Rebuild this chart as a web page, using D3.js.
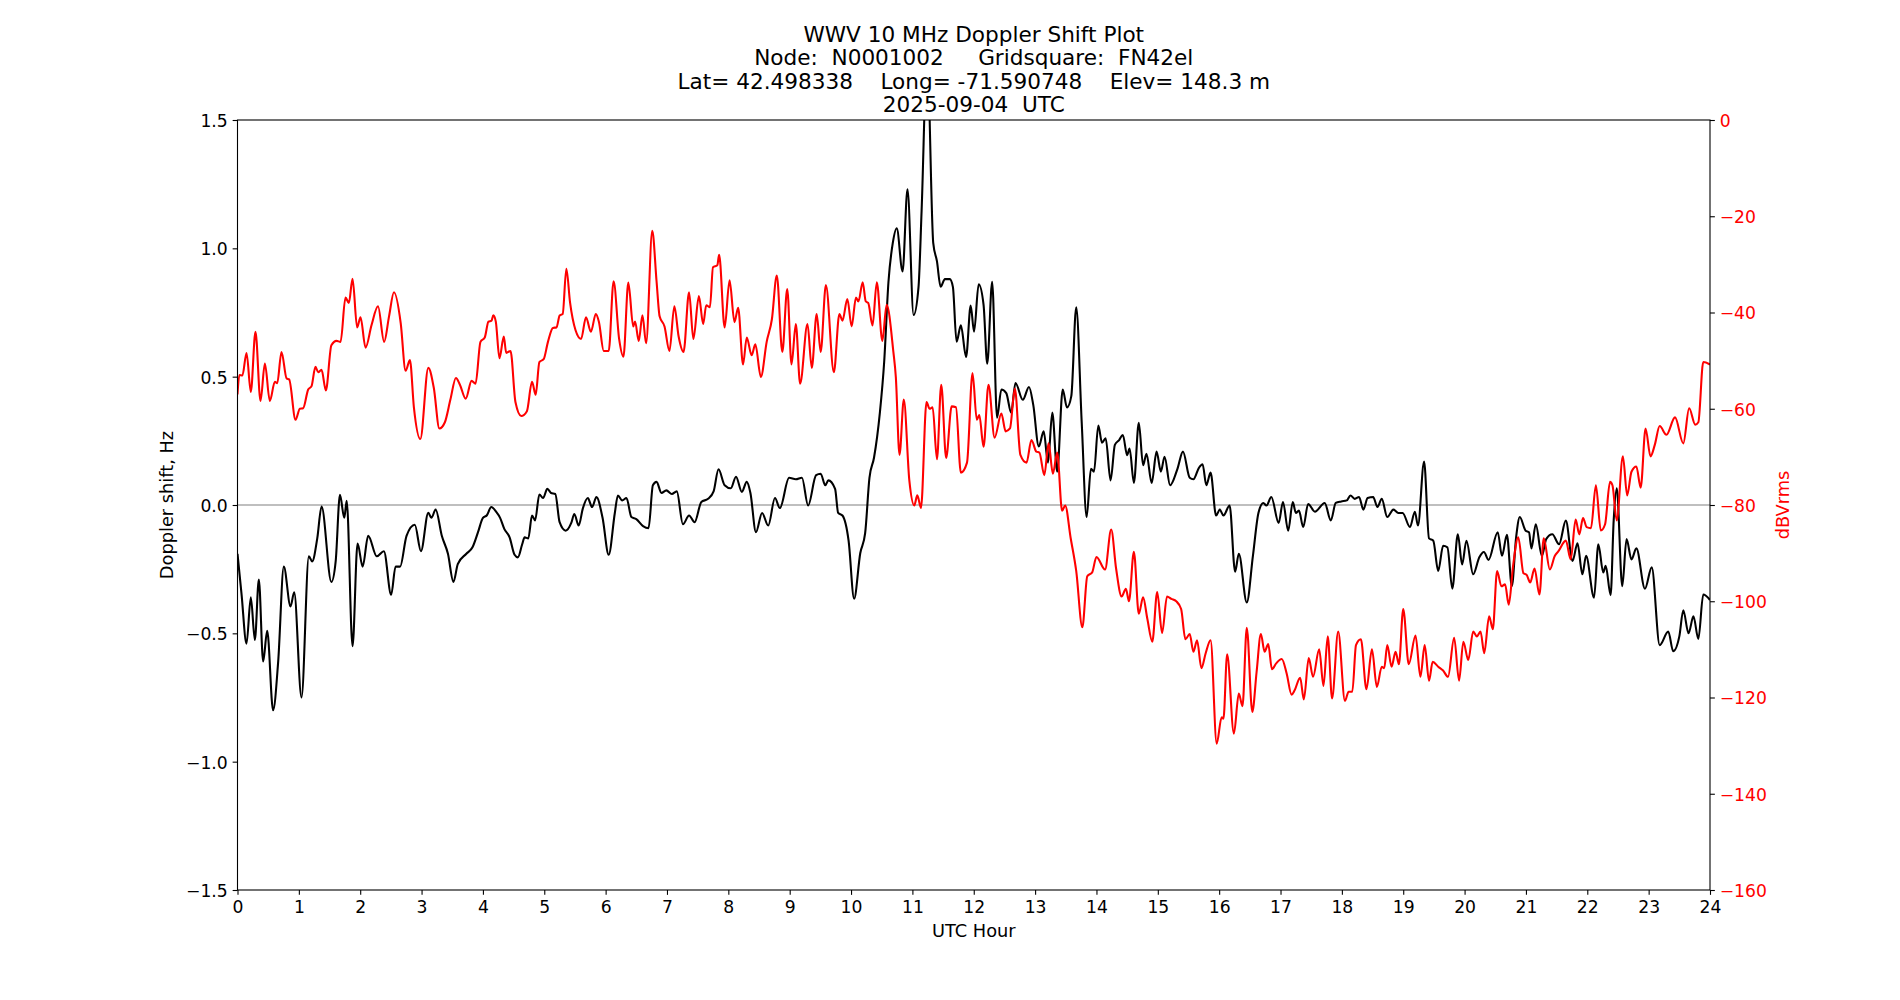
<!DOCTYPE html>
<html lang="en">
<head>
<meta charset="utf-8">
<title>WWV 10 MHz Doppler Shift Plot</title>
<script src="https://d3js.org/d3.v7.min.js"></script>
<style>
  body { margin: 0; background: #fff; }
  svg text { font-family: "DejaVu Sans", sans-serif; }
  .title text { font-size: 21.6px; white-space: pre; }
  .axis text { font-size: 17.2px; }
  .axis line { stroke: #000; stroke-width: 1.1px; }
  .axis path { display: none; }
  .lbl { font-size: 17.8px; }
</style>
</head>
<body>
<svg width="1900" height="1000"></svg>
<script>

// ---- data ----
var titleLines = [
  "WWV 10 MHz Doppler Shift Plot",
  "Node:  N0001002     Gridsquare:  FN42el",
  "Lat= 42.498338    Long= -71.590748    Elev= 148.3 m",
  "2025-09-04  UTC"
];
var xTicks = d3.range(0, 25);
var hzTicks = [-1.5, -1.0, -0.5, 0.0, 0.5, 1.0, 1.5];
var dbTicks = [0, -20, -40, -60, -80, -100, -120, -140, -160];

// Doppler shift (black), hours / Hz
var dopplerHours = [0.0,0.065,0.147,0.217,0.283,0.348,0.418,0.484,0.58,0.663,0.755,0.864,0.924,1.043,1.163,1.217,1.30,1.37,1.53,1.60,1.67,1.74,1.78,1.875,1.957,2.04,2.13,2.27,2.386,2.505,2.576,2.65,2.755,2.89,2.99,3.11,3.16,3.23,3.33,3.43,3.52,3.59,3.73,3.83,3.92,
  4.0,4.065,4.136,4.217,4.28,4.35,4.435,4.516,4.57,4.64,4.68,4.74,4.80,4.85,4.92,4.98,5.05,5.11,5.18,5.25,5.35,5.44,5.49,5.56,5.63,5.71,5.78,5.85,5.95,6.05,6.15,6.2,6.27,6.34,6.42,6.5,6.61,6.70,6.77,6.83,6.91,6.99,7.08,7.16,7.26,7.36,7.45,7.56,7.67,7.76,7.84,7.94,
  8.04,8.125,8.22,8.30,8.36,8.45,8.55,8.65,8.76,8.84,8.99,9.10,9.20,9.30,9.43,9.505,9.58,9.63,9.74,9.79,9.86,9.96,10.05,10.15,10.23,10.30,10.375,10.47,10.54,10.61,10.68,10.745,10.84,10.92,11.02,11.10,11.15,11.24,11.34,11.40,11.46,11.53,11.61,11.66,11.72,11.79,11.875,11.95,12.005,12.08,12.16,
  12.22,12.30,12.38,12.45,12.53,12.61,12.68,12.80,12.90,12.97,13.06,13.14,13.21,13.28,13.36,13.45,13.52,13.59,13.67,13.76,13.84,13.91,13.96,14.03,14.09,14.15,14.23,14.30,14.37,14.43,14.50,14.54,14.61,14.69,14.76,14.815,14.90,14.98,15.05,15.11,15.20,15.32,15.41,15.52,15.58,15.67,15.73,15.79,15.86,15.95,16.01,16.07,16.17,
  16.26,16.32,16.45,16.55,16.64,16.72,16.77,16.85,16.97,17.04,17.125,17.20,17.25,17.30,17.37,17.45,17.56,17.72,17.82,17.90,17.99,18.08,18.14,18.21,18.28,18.35,18.42,18.51,18.58,18.65,18.74,18.84,18.92,18.99,19.11,19.19,19.24,19.34,19.42,19.49,19.57,19.65,19.72,19.80,19.89,19.96,20.03,20.14,20.24,20.315,20.39,
  20.54,20.61,20.69,20.77,20.84,20.90,20.995,21.05,21.09,21.16,21.26,21.33,21.43,21.54,21.65,21.76,21.84,21.92,21.98,22.11,22.18,22.26,22.30,22.38,22.43,22.48,22.57,22.64,22.72,22.80,22.94,23.05,23.18,23.32,23.40,23.50,23.565,23.65,23.73,23.81,23.89,24.0];
var dopplerHz = [-0.19,-0.345,-0.54,-0.36,-0.526,-0.29,-0.61,-0.49,-0.80,-0.61,-0.24,-0.395,-0.34,-0.75,-0.20,-0.22,-0.13,-0.006,-0.30,-0.22,0.04,-0.05,0.016,-0.55,-0.15,-0.24,-0.12,-0.20,-0.18,-0.35,-0.24,-0.24,-0.12,-0.077,-0.18,-0.03,-0.05,-0.018,-0.12,-0.19,-0.30,-0.23,-0.19,-0.165,-0.106,
  -0.05,-0.04,-0.008,-0.027,-0.05,-0.094,-0.126,-0.194,-0.204,-0.153,-0.126,-0.13,-0.041,-0.06,0.041,0.027,0.063,0.047,0.043,-0.067,-0.10,-0.07,-0.035,-0.08,-0.012,0.027,-0.008,0.031,-0.05,-0.194,-0.031,0.037,0.018,0.027,-0.047,-0.055,-0.082,-0.09,0.077,0.09,0.047,0.057,0.043,0.053,-0.075,-0.041,-0.067,0.012,0.024,0.053,0.139,0.077,
  0.065,0.11,0.051,0.09,0.047,-0.106,-0.031,-0.08,0.027,-0.012,0.106,0.10,0.106,-0.002,0.116,0.122,0.077,0.096,0.063,-0.031,-0.041,-0.139,-0.365,-0.188,-0.11,0.106,0.185,0.36,0.557,0.87,1.02,1.078,0.91,1.23,0.74,0.85,1.146,1.75,1.02,0.95,0.85,0.88,0.88,0.85,0.636,0.70,0.577,0.777,0.675,0.86,0.78,
  0.55,0.87,0.34,0.45,0.436,0.36,0.475,0.41,0.46,0.39,0.228,0.287,0.165,0.36,0.13,0.45,0.38,0.424,0.77,0.32,-0.047,0.141,0.13,0.31,0.243,0.26,0.096,0.234,0.253,0.273,0.194,0.22,0.086,0.32,0.155,0.20,0.086,0.208,0.13,0.188,0.077,0.141,0.208,0.106,0.10,0.145,0.159,0.077,0.126,-0.041,-0.018,-0.041,-0.002,
  -0.26,-0.19,-0.38,-0.198,-0.031,0.008,-0.002,0.031,-0.07,0.012,-0.10,0.012,-0.031,-0.022,-0.086,0.004,-0.026,0.008,-0.06,0.008,0.014,0.018,0.037,0.024,0.031,-0.018,0.027,0.031,-0.008,0.024,-0.047,-0.018,-0.031,-0.031,-0.086,-0.026,-0.08,0.169,-0.13,-0.139,-0.257,-0.159,-0.165,-0.326,-0.114,-0.232,-0.139,-0.27,-0.204,-0.183,-0.214,
  -0.106,-0.198,-0.116,-0.316,-0.126,-0.047,-0.10,-0.106,-0.169,-0.075,-0.198,-0.133,-0.114,-0.153,-0.061,-0.218,-0.149,-0.27,-0.198,-0.361,-0.153,-0.263,-0.237,-0.351,-0.061,0.065,-0.316,-0.133,-0.212,-0.169,-0.326,-0.243,-0.546,-0.493,-0.57,-0.512,-0.41,-0.50,-0.434,-0.522,-0.349,-0.37];

// Signal level (red), hours / dBVrms
var powerHours = [0.0,0.03,0.08,0.147,0.217,0.293,0.375,0.446,0.527,0.609,0.647,0.717,0.80,0.842,0.946,1.016,1.07,1.152,1.207,1.27,1.315,1.37,1.44,1.53,1.614,1.68,1.76,1.815,1.875,1.95,2.005,2.087,2.185,2.29,2.39,2.47,2.55,2.66,2.74,2.81,2.875,2.98,3.11,3.20,3.29,3.38,3.47,3.56,3.625,3.72,3.815,3.88,3.96,
  4.03,4.09,4.14,4.17,4.21,4.27,4.34,4.38,4.45,4.53,4.625,4.717,4.80,4.86,4.92,4.99,5.06,5.14,5.20,5.25,5.3,5.36,5.42,5.51,5.6,5.68,5.76,5.84,5.89,5.97,6.05,6.13,6.22,6.29,6.37,6.45,6.48,6.54,6.60,6.66,6.76,6.83,6.88,6.96,7.04,7.12,7.19,7.27,7.36,7.43,7.52,7.59,7.64,7.70,7.75,7.82,7.85,7.94,
  8.02,8.10,8.16,8.24,8.30,8.38,8.44,8.53,8.625,8.71,8.79,8.88,8.96,9.03,9.10,9.17,9.29,9.36,9.44,9.505,9.59,9.72,9.81,9.86,9.94,10.01,10.08,10.12,10.19,10.24,10.28,10.35,10.42,10.51,10.58,10.69,10.73,10.79,10.86,10.95,11.03,11.08,11.14,11.23,11.28,11.33,11.40,11.47,11.55,11.64,11.71,11.79,11.89,11.98,
  12.05,12.09,12.16,12.24,12.34,12.45,12.52,12.59,12.67,12.76,12.86,12.94,13.02,13.07,13.15,13.22,13.29,13.36,13.44,13.49,13.58,13.67,13.77,13.85,13.93,14.0,14.14,14.24,14.32,14.41,14.48,14.53,14.61,14.69,14.76,14.83,14.91,14.99,15.07,15.15,15.22,15.30,15.38,15.45,15.52,15.58,15.64,15.71,15.78,15.86,15.96,
  16.04,16.07,16.13,16.24,16.32,16.38,16.45,16.54,16.61,16.68,16.74,16.80,16.86,16.93,17.02,17.10,17.18,17.23,17.32,17.38,17.46,17.53,17.63,17.70,17.77,17.84,17.94,18.05,18.11,18.17,18.23,18.31,18.40,18.49,18.57,18.65,18.69,18.74,18.81,18.875,18.93,19.00,19.09,19.20,19.28,19.35,19.42,19.48,19.57,19.65,19.73,19.83,19.91,19.98,
  20.06,20.14,20.20,20.26,20.32,20.40,20.46,20.53,20.60,20.66,20.72,20.79,20.875,20.96,21.01,21.07,21.14,21.22,21.29,21.39,21.47,21.53,21.65,21.73,21.81,21.87,21.93,21.99,22.06,22.14,22.22,22.29,22.37,22.41,22.48,22.58,22.65,22.72,22.80,22.87,22.95,23.03,23.10,23.18,23.29,23.43,23.565,23.66,23.76,23.81,23.89,24.0];
var powerDb = [-57,-53,-53.1,-48.4,-56.5,-44.0,-58.4,-50.6,-58.4,-54.4,-54.7,-48.2,-53.7,-53.9,-62.3,-60.0,-59.9,-56.0,-55.3,-51.3,-52.4,-51.9,-56.2,-46.8,-45.9,-46.1,-36.9,-38.0,-33.0,-43.1,-41.0,-47.3,-42.6,-38.7,-46.1,-40.8,-35.8,-42.2,-52.1,-49.9,-59.7,-66.3,-51.5,-55.7,-64.1,-62.8,-58.1,-53.6,-55.0,-57.9,-54.2,-54.8,-46.1,
  -45.2,-41.9,-41.7,-40.6,-41.9,-49.5,-45.0,-48.4,-48.0,-58.6,-61.5,-60.5,-54.4,-57.1,-50.3,-49.7,-46.1,-43.2,-43.1,-40.6,-40.3,-30.9,-37.9,-43.7,-45.5,-41.0,-44.0,-40.3,-41.9,-48.0,-48.0,-33.5,-45.5,-49.2,-33.8,-42.9,-41.9,-45.9,-40.6,-46.4,-23.0,-33.5,-40.8,-42.9,-48.0,-38.7,-45.0,-48.2,-35.8,-45.5,-36.6,-42.4,-38.5,-38.9,-30.6,-30.2,-28.0,-43.1,
  -33.3,-42.0,-39.0,-50.8,-45.2,-48.9,-46.6,-53.4,-46.1,-41.4,-32.3,-48.2,-35.1,-50.8,-42.4,-54.8,-42.4,-51.5,-40.3,-48.2,-34.3,-52.4,-40.3,-41.7,-37.2,-42.9,-36.9,-37.7,-33.7,-37.7,-38.0,-42.7,-33.7,-45.9,-38.4,-48.2,-53.4,-69.6,-58.1,-74.9,-80.1,-78.0,-80.6,-58.6,-60.0,-59.7,-70.5,-55.0,-70.2,-59.5,-59.7,-73.3,-71.2,-52.6,
  -62.3,-61.3,-67.9,-55.0,-66.0,-61.0,-64.7,-64.1,-55.8,-69.6,-71.2,-66.5,-68.9,-69.1,-73.8,-67.2,-73.5,-69.1,-81.2,-80.1,-86.9,-93.7,-105.4,-94.8,-94.0,-90.8,-93.4,-85.1,-93.2,-99.0,-97.4,-100.0,-89.7,-102.6,-99.2,-103.7,-108.4,-98.1,-106.6,-99.0,-99.5,-100.0,-101.6,-107.9,-106.8,-110.5,-108.1,-113.9,-110.8,-108.1,-129.6,
  -124.1,-124.4,-111.0,-127.5,-119.2,-121.8,-105.5,-123.0,-114.7,-106.8,-110.5,-108.9,-114.1,-112.9,-112.0,-115.0,-119.4,-118.5,-115.9,-120.4,-111.8,-115.7,-110.0,-117.6,-107.3,-120.2,-106.3,-120.7,-118.8,-118.8,-109.1,-107.9,-118.3,-110.0,-117.8,-113.6,-113.9,-109.1,-113.6,-110.5,-113.1,-101.6,-113.1,-107.1,-115.7,-109.1,-116.5,-112.6,-113.6,-114.4,-115.7,-107.6,-116.5,-108.4,
  -112.2,-106.3,-107.3,-106.3,-110.8,-103.1,-105.8,-93.7,-96.9,-96.5,-100.7,-92.7,-86.7,-94.2,-94.5,-96.1,-93.2,-98.6,-86.9,-93.4,-90.6,-89.6,-87.4,-91.3,-83.0,-86.1,-82.7,-84.6,-84.8,-75.9,-85.3,-84.0,-75.2,-75.9,-83.2,-69.9,-78.0,-73.1,-72.0,-76.4,-64.1,-69.9,-67.5,-63.6,-65.4,-61.8,-67.2,-59.9,-63.3,-62.8,-50.3,-50.8];

// ---- layout ----
var svg = d3.select("svg");
var plotL = 237.5, plotR = 1710, plotT = 120, plotB = 890;
var tickLen = 4.86, tickPad = 4.86;

var x = d3.scaleLinear().domain([0, 24]).range([plotL, plotR]);
var y = d3.scaleLinear().domain([-1.5, 1.5]).range([plotB, plotT]);
var y2 = d3.scaleLinear().domain([-160, 0]).range([plotB, plotT]);

svg.append("defs").append("clipPath")
    .attr("id", "plotclip")
  .append("rect")
    .attr("x", plotL).attr("y", plotT)
    .attr("width", plotR - plotL).attr("height", plotB - plotT);

// title
var title = svg.append("g").attr("class", "title");
var lineStep = 23.2;
titleLines.forEach(function(t, i) {
  title.append("text")
    .attr("x", (plotL + plotR) / 2)
    .attr("y", 111.7 - (titleLines.length - 1 - i) * lineStep)
    .attr("text-anchor", "middle")
    .text(t);
});

var plot = svg.append("g").attr("clip-path", "url(#plotclip)");

// zero line
plot.append("line")
    .attr("x1", plotL).attr("x2", plotR)
    .attr("y1", y(0)).attr("y2", y(0))
    .attr("stroke", "#808080")
    .attr("stroke-width", 1.1);

var dopplerLine = d3.line()
    .x(function(d, i) { return x(dopplerHours[i]); })
    .y(function(d) { return y(d); })
    .curve(d3.curveMonotoneX);

var powerLine = d3.line()
    .x(function(d, i) { return x(powerHours[i]); })
    .y(function(d) { return y2(d); })
    .curve(d3.curveMonotoneX);

plot.append("path")
    .datum(dopplerHz)
    .attr("d", dopplerLine)
    .attr("fill", "none")
    .attr("stroke", "#000")
    .attr("stroke-width", 2.08)
    .attr("stroke-linejoin", "round");

plot.append("path")
    .datum(powerDb)
    .attr("d", powerLine)
    .attr("fill", "none")
    .attr("stroke", "#ff0000")
    .attr("stroke-width", 2.08)
    .attr("stroke-linejoin", "round");

// axes
var xAxis = svg.append("g")
    .attr("class", "axis")
    .attr("transform", "translate(0," + plotB + ")")
    .call(d3.axisBottom(x).tickValues(xTicks).tickSize(tickLen).tickPadding(tickPad).tickFormat(d3.format("d")));
xAxis.selectAll("text").attr("dy", "0.78em").attr("fill", "#000");

var yAxis = svg.append("g")
    .attr("class", "axis")
    .attr("transform", "translate(" + plotL + ",0)")
    .call(d3.axisLeft(y).tickValues(hzTicks).tickSize(tickLen).tickPadding(tickPad).tickFormat(d3.format(".1f")));
yAxis.selectAll("text").attr("dy", "0.37em").attr("fill", "#000");

var y2Axis = svg.append("g")
    .attr("class", "axis")
    .attr("transform", "translate(" + plotR + ",0)")
    .call(d3.axisRight(y2).tickValues(dbTicks).tickSize(tickLen).tickPadding(tickPad).tickFormat(d3.format("d")));
y2Axis.selectAll("text").attr("dy", "0.37em").attr("fill", "#ff0000");

// frame
svg.append("rect")
    .attr("x", plotL).attr("y", plotT)
    .attr("width", plotR - plotL).attr("height", plotB - plotT)
    .attr("fill", "none")
    .attr("stroke", "#000")
    .attr("stroke-width", 1.1);

// axis labels
svg.append("text")
    .attr("class", "lbl")
    .attr("x", (plotL + plotR) / 2)
    .attr("y", 937)
    .attr("text-anchor", "middle")
    .text("UTC Hour");

svg.append("text")
    .attr("class", "lbl")
    .attr("transform", "translate(173," + (plotT + plotB) / 2 + ") rotate(-90)")
    .attr("text-anchor", "middle")
    .text("Doppler shift, Hz");

svg.append("text")
    .attr("class", "lbl")
    .attr("transform", "translate(1789," + (plotT + plotB) / 2 + ") rotate(-90)")
    .attr("text-anchor", "middle")
    .attr("fill", "#ff0000")
    .text("dBVrms");

</script>
</body>
</html>
